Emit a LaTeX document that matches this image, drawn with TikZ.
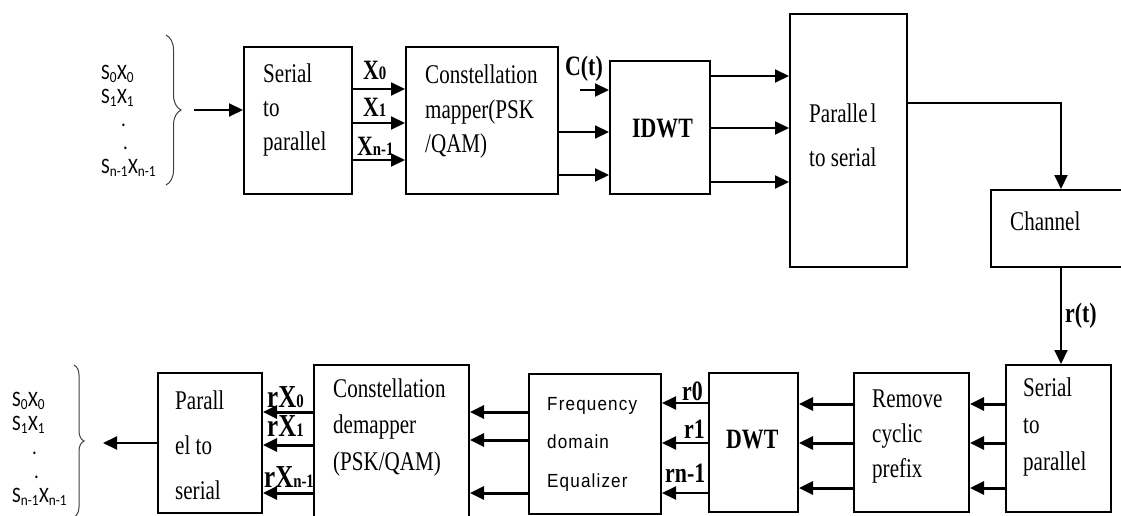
\documentclass[tikz,border=0pt]{standalone}
\usepackage{fontspec}
\usepackage{tikz}
\usetikzlibrary{arrows.meta,decorations.pathreplacing,calc,positioning}
\newfontfamily\blkfont{Liberation Serif}[FakeStretch=0.78]
\newfontfamily\feqfont{Liberation Sans}[FakeStretch=0.9,LetterSpace=6]
\newfontfamily\symfont{Carlito}[FakeStretch=0.86]
\newcommand\dg[1]{{\fontsize{19}{20}\selectfont #1}}
\tikzset{
  blk/.style={draw,line width=2pt,anchor=north west,inner sep=0pt},
  txt/.style={anchor=base west,inner sep=0pt,align=left,font=\blkfont\fontsize{27}{#1}\selectfont},
  txt/.default=35,
  lbl/.style={anchor=base west,inner sep=0pt,font=\blkfont\bfseries\fontsize{28}{30}\selectfont},
  lblb/.style={anchor=base west,inner sep=0pt,font=\blkfont\bfseries\fontsize{32}{30}\selectfont},
  src/.style={anchor=base west,inner sep=0pt,align=left,font=\symfont\fontsize{22}{#1}\selectfont},
  brc/.style={decorate,decoration={brace,amplitude=#1},line width=1pt,black!75},
  sig/.style={-{Triangle[length=14pt,width=13pt]},line width=2pt},
  sigb/.style={sig,line width=3pt}
}
\begin{document}
\begin{tikzpicture}[x=1pt,y=-1pt]
\clip (0,0) rectangle (1121,516);
\fill[white] (0,0) rectangle (1121,516);
% transmitter
\node[src=23.3] (inS) at (101,173) {S\textsubscript{0}X\textsubscript{0}\\S\textsubscript{1}X\textsubscript{1}\\\hspace*{20pt}.\\\hspace*{22pt}.\\S\textsubscript{n-1}X\textsubscript{n-1}};
\draw[brc=15pt] (166,35) -- (166,185);
\coordinate (inL) at (194,110);
\node[blk,minimum width=108pt,minimum height=147pt] (s2p) at (243,46) {};
\node[blk,minimum width=152pt,minimum height=147pt] (map) at (405,46) {};
\node[blk,minimum width=100pt,minimum height=133pt] (idwt) at (609,60) {};
\node[blk,minimum width=117pt,minimum height=253pt] (p2s) at (789,13) {};
\node[blk,minimum width=140pt,minimum height=77pt] (chan) at (990,189) {};
\node[txt=34] (s2pT) at (263,150) {Serial\\to\\parallel};
\node[txt] (mapT) at (425,153) {Constellation\\mapper(PSK\\/QAM)};
\node[lbl] (idwtT) at (632,137) {IDWT};
\node[txt=44] (p2sT) at (809,166) {Paralle\hspace{3pt}l\\to serial};
\node[txt] (chanT) at (1010,230) {Channel};
\node[lbl] (x0) at (363,80) {X\dg{0}};
\node[lbl] (x1) at (363,117) {X\dg{1}};
\node[lbl] (xn) at (357,155) {X\dg{n-1}};
\node[lbl] (ct) at (565,76) {C(t)};
\coordinate (ctL) at (580,90);
\draw[sig] (inL) -- (s2p.west |- inL);
\foreach \yy in {89,123,160} \draw[sig] (s2p.east |- 0,\yy) -- (map.west |- 0,\yy);
\draw[sig] (ctL) -- (idwt.west |- ctL);
\foreach \yy in {132,175} \draw[sig] (map.east |- 0,\yy) -- (idwt.west |- 0,\yy);
\foreach \yy in {76,128,182} \draw[sig] (idwt.east |- 0,\yy) -- (p2s.west |- 0,\yy);
\draw[sig] (p2s.east |- 0,103) -| (chan.north);
% receiver
\node[blk,minimum width=105pt,minimum height=147pt] (s2pb) at (1005,364) {};
\node[blk,minimum width=115pt,minimum height=139pt] (rcp) at (853,372) {};
\node[blk,minimum width=89pt,minimum height=139pt] (dwt) at (708,372) {};
\node[blk,minimum width=132pt,minimum height=140pt] (feq) at (528,373) {};
\node[blk,minimum width=155pt,minimum height=170pt] (dem) at (313,364) {};
\node[blk,minimum width=104pt,minimum height=140pt] (p2sb) at (157,372) {};
\node[txt=37] (s2pbT) at (1023,470) {Serial\\to\\parallel};
\node[txt] (rcpT) at (872,477) {Remove\\cyclic\\prefix};
\node[lbl] (dwtT) at (726,448) {DWT};
\node[anchor=base west,inner sep=0pt,align=left,font=\feqfont\fontsize{19}{38.5}\selectfont] (feqT) at (547,487) {Frequency\\domain\\Equalizer};
\node[txt=36.5] (demT) at (333,470) {Constellation\\demapper\\(PSK/QAM)};
\node[txt=45] (p2sbT) at (175,499) {Parall\\el to\\serial};
\node[lbl] (rt) at (1065,322) {r(t)};
\node[lbl] (r0) at (682,400) {r0};
\node[lbl] (r1) at (684,438) {r1};
\node[lbl] (rn) at (665,482) {rn-1};
\node[lblb] (rx0) at (267,407) {rX\dg{0}};
\node[lblb] (rx1) at (267,436) {rX\dg{1}};
\node[lblb] (rxn) at (264,487) {rX\dg{n-1}};
\node[src=24] (outS) at (12,502) {S\textsubscript{0}X\textsubscript{0}\\S\textsubscript{1}X\textsubscript{1}\\\hspace*{20pt}.\\\hspace*{22pt}.\\S\textsubscript{n-1}X\textsubscript{n-1}};
\draw[brc=10pt] (74,365) -- (74,517);
\coordinate (outL) at (103,443);
\draw[sig] (chan.south) -- (chan.south |- s2pb.north);
\foreach \yy in {404,443,488} \draw[sigb] (s2pb.west |- 0,\yy) -- (rcp.east |- 0,\yy);
\foreach \yy in {404,443,488} \draw[sigb] (rcp.west |- 0,\yy) -- (dwt.east |- 0,\yy);
\foreach \yy in {403,443,493} \draw[sig] (dwt.west |- 0,\yy) -- (feq.east |- 0,\yy);
\foreach \yy in {412,440,493} \draw[sigb] (feq.west |- 0,\yy) -- (dem.east |- 0,\yy);
\foreach \yy in {412,445,493} \draw[sigb] (dem.west |- 0,\yy) -- (p2sb.east |- 0,\yy);
\draw[sig] (p2sb.west |- outL) -- (outL);
\end{tikzpicture}
\end{document}
